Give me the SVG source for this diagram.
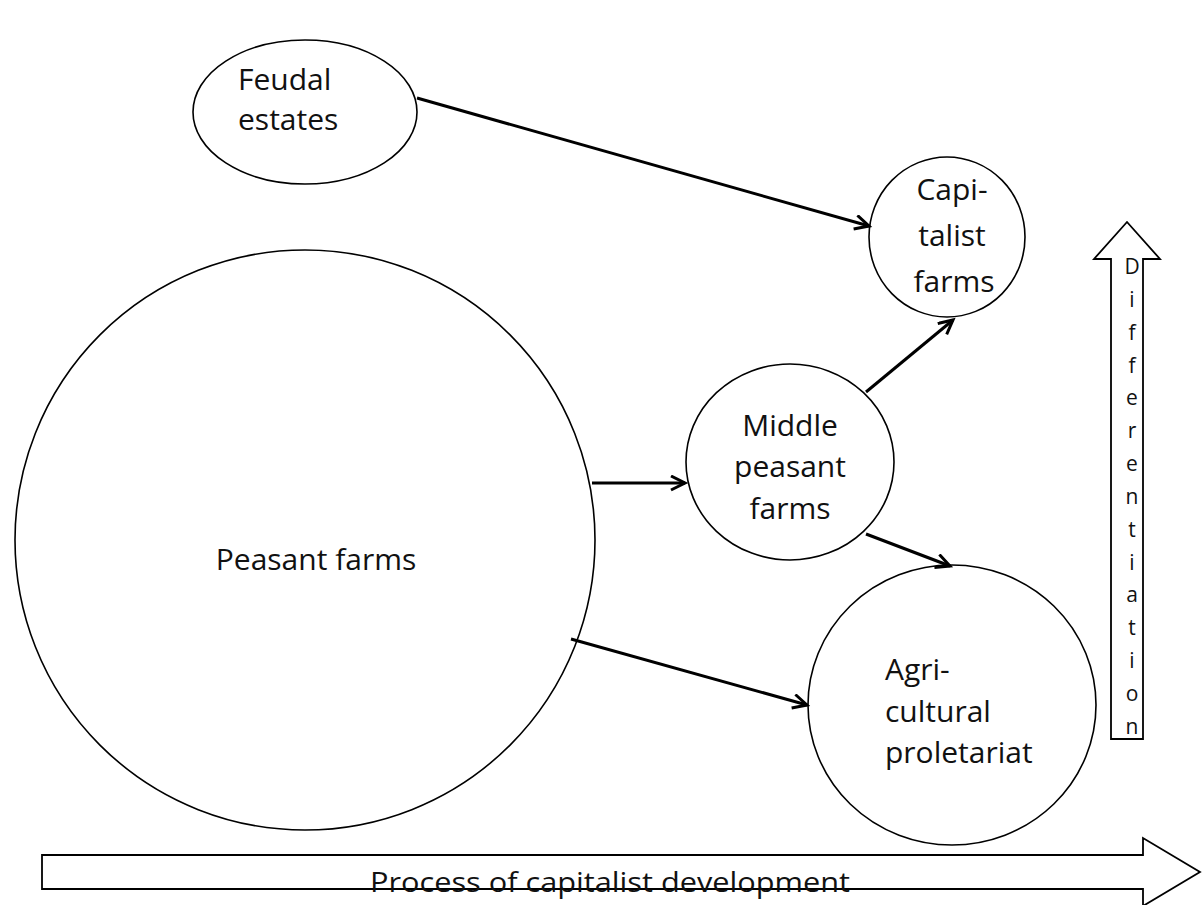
<svg xmlns="http://www.w3.org/2000/svg" width="1203" height="905" viewBox="0 0 1203 905">
<style>
.node{fill:#fff;stroke:#000;stroke-width:1.6}
.lbl{font-family:"Open Sans","Noto Sans",sans-serif;font-size:30px;fill:#111}
.conn{stroke:#000;stroke-width:3;fill:none;marker-end:url(#arr)}
.big{fill:#fff;stroke:#000;stroke-width:1.8}
.let{font-family:"Open Sans","Noto Sans",sans-serif;font-size:21px;fill:#111;text-anchor:middle}
</style>
<defs>
<marker id="arr" markerUnits="userSpaceOnUse" markerWidth="20" markerHeight="20" refX="15" refY="8" orient="auto">
<path d="M1,1 L15,8 L1,15" fill="none" stroke="#000" stroke-width="3"/>
</marker>
</defs>
<rect width="1203" height="905" fill="#fff"/>
<g id="peasant-farms">
<circle class="node" cx="305" cy="540" r="290"/>
<text class="lbl" x="316" y="570" text-anchor="middle">Peasant farms</text>
</g>
<g id="feudal-estates">
<ellipse class="node" cx="305" cy="112" rx="112" ry="72"/>
<text class="lbl" x="238" y="90">Feudal</text>
<text class="lbl" x="238" y="130">estates</text>
</g>
<g id="capitalist-farms">
<ellipse class="node" cx="947" cy="237" rx="78" ry="80"/>
<text class="lbl" x="952" y="200" text-anchor="middle">Capi-</text>
<text class="lbl" x="952" y="246" text-anchor="middle">talist</text>
<text class="lbl" x="954" y="292" text-anchor="middle">farms</text>
</g>
<g id="middle-peasant-farms">
<ellipse class="node" cx="790" cy="462" rx="104" ry="98"/>
<text class="lbl" x="790" y="436" text-anchor="middle">Middle</text>
<text class="lbl" x="790" y="477" text-anchor="middle">peasant</text>
<text class="lbl" x="790" y="519" text-anchor="middle">farms</text>
</g>
<g id="agricultural-proletariat">
<ellipse class="node" cx="952" cy="705" rx="144" ry="140"/>
<text class="lbl" x="885" y="680">Agri-</text>
<text class="lbl" x="885" y="722">cultural</text>
<text class="lbl" x="885" y="763">proletariat</text>
</g>
<g id="connectors">
<line class="conn" x1="417" y1="98" x2="869" y2="226"/>
<line class="conn" x1="866" y1="392" x2="953" y2="320"/>
<line class="conn" x1="592" y1="483" x2="685" y2="483"/>
<line class="conn" x1="866" y1="534" x2="950" y2="566"/>
<line class="conn" x1="571" y1="639" x2="807" y2="705"/>
</g>
<g id="differentiation-arrow">
<path class="big" d="M1111,739 L1143,739 L1143,259 L1160,259 L1127,222 L1094,259 L1111,259 Z"/>
<text class="let" x="1132" y="274">D</text>
<text class="let" x="1132" y="307">i</text>
<text class="let" x="1132" y="340">f</text>
<text class="let" x="1132" y="373">f</text>
<text class="let" x="1132" y="405">e</text>
<text class="let" x="1132" y="438">r</text>
<text class="let" x="1132" y="471">e</text>
<text class="let" x="1132" y="504">n</text>
<text class="let" x="1132" y="537">t</text>
<text class="let" x="1132" y="570">i</text>
<text class="let" x="1132" y="602">a</text>
<text class="let" x="1132" y="635">t</text>
<text class="let" x="1132" y="668">i</text>
<text class="let" x="1132" y="701">o</text>
<text class="let" x="1132" y="734">n</text>
</g>
<g id="development-arrow">
<path class="big" d="M42,855 L1143,855 L1143,838 L1200,872 L1143,906 L1143,889 L42,889 Z"/>
<text x="610" y="892" text-anchor="middle" font-family="Open Sans, Noto Sans, sans-serif" font-size="27" fill="#111" textLength="480" lengthAdjust="spacingAndGlyphs">Process of capitalist development</text>
</g>
</svg>
